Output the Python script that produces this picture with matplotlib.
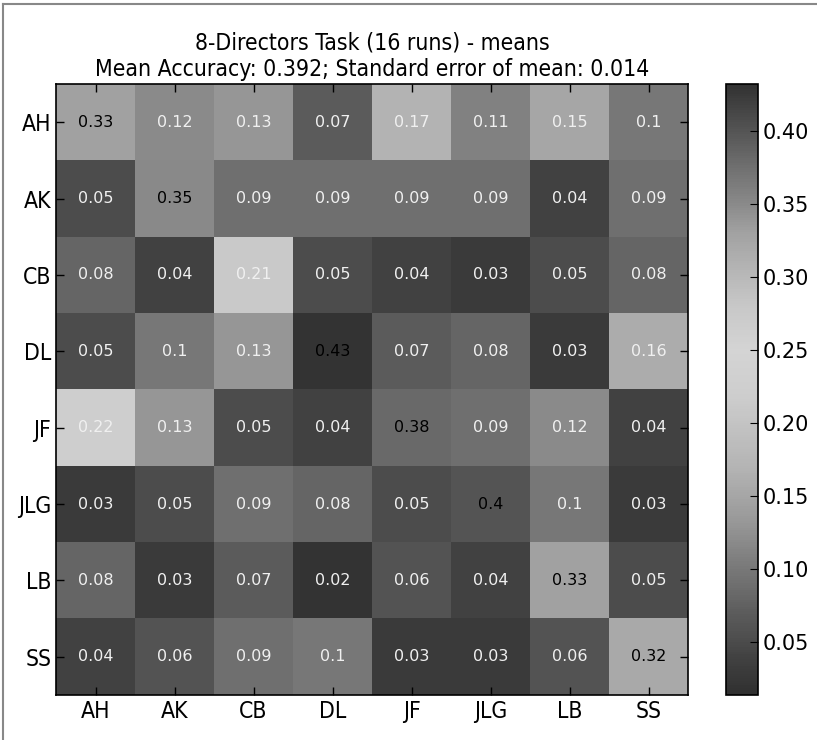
import matplotlib
matplotlib.use("Agg")
import matplotlib.pyplot as plt
import numpy as np
from matplotlib.colors import LinearSegmentedColormap
from matplotlib.lines import Line2D

labels = ["AH", "AK", "CB", "DL", "JF", "JLG", "LB", "SS"]
row_AH = [0.33, 0.12, 0.13, 0.07, 0.17, 0.11, 0.15, 0.10]
row_AK = [0.05, 0.35, 0.09, 0.09, 0.09, 0.09, 0.04, 0.09]
row_CB = [0.08, 0.04, 0.21, 0.05, 0.04, 0.03, 0.05, 0.08]
row_DL = [0.05, 0.10, 0.13, 0.43, 0.07, 0.08, 0.03, 0.16]
row_JF = [0.22, 0.13, 0.05, 0.04, 0.38, 0.09, 0.12, 0.04]
row_JLG = [0.03, 0.05, 0.09, 0.08, 0.05, 0.40, 0.10, 0.03]
row_LB = [0.08, 0.03, 0.07, 0.02, 0.06, 0.04, 0.33, 0.05]
row_SS = [0.04, 0.06, 0.09, 0.10, 0.03, 0.03, 0.06, 0.32]
cb_ticks = [0.05, 0.10, 0.15, 0.20, 0.25, 0.30, 0.35, 0.40]
title = "8-Directors Task (16 runs) - means\nMean Accuracy: 0.392; Standard error of mean: 0.014"

data = np.array([row_AH, row_AK, row_CB, row_DL, row_JF, row_JLG, row_LB, row_SS])

vmin, vmax = 0.014, 0.432
# colormap shape (dark - light - dark), anchors as (value, gray level)
anchors = [(0.014, 48), (0.04, 66), (0.05, 76), (0.07, 92), (0.09, 112), (0.10, 120),
           (0.12, 140), (0.13, 150), (0.15, 166), (0.17, 180), (0.22, 206), (0.25, 212),
           (0.28, 200), (0.33, 162), (0.35, 138), (0.38, 107), (0.40, 85), (0.432, 50)]
cmap = LinearSegmentedColormap.from_list(
    "dld", [((v - vmin) / (vmax - vmin), (g / 255,) * 3) for v, g in anchors])

fig = plt.figure(figsize=(8.17, 7.40), dpi=100)
W, H = 817, 740
ax = fig.add_axes([56 / W, 1 - 695 / H, (688 - 56) / W, (695 - 84) / H])
cax = fig.add_axes([726 / W, 1 - 695 / H, (758 - 726) / W, (695 - 84) / H])

im = ax.imshow(data, cmap=cmap, vmin=vmin, vmax=vmax, aspect="auto", interpolation="nearest")
for i in range(data.shape[0]):
    for j in range(data.shape[1]):
        v = data[i, j]
        ax.text(j, i, f"{v:g}", ha="center", va="center", fontsize=11.5,
                color="black" if v > 0.3 else "#f0f0f0")

cond = dict(family="DejaVu Sans", stretch="condensed")
ax.set_xticks(range(len(labels)))
ax.set_yticks(range(len(labels)))
ax.set_xticklabels(labels, fontsize=16.5, **cond)
ax.set_yticklabels(labels, fontsize=16.5, **cond)
ax.tick_params(direction="in", length=6, top=True, right=True, width=1)
for s in ax.spines.values():
    s.set_linewidth(1.2)
ax.set_title(title, fontsize=16.5, pad=6, **cond)

cb = fig.colorbar(im, cax=cax, ticks=cb_ticks)
cb.ax.tick_params(direction="in", length=6, labelsize=15)
cb.ax.set_yticklabels([f"{t:.2f}" for t in cb_ticks])
cb.outline.set_linewidth(1.2)

fig.add_artist(Line2D([3 / W, 3 / W], [0, 1 - 4 / H], transform=fig.transFigure, color="#888888", lw=1.5))
fig.add_artist(Line2D([3 / W, 1], [1 - 4 / H, 1 - 4 / H], transform=fig.transFigure, color="#888888", lw=1.5))

fig.savefig("out.png", dpi=100)
